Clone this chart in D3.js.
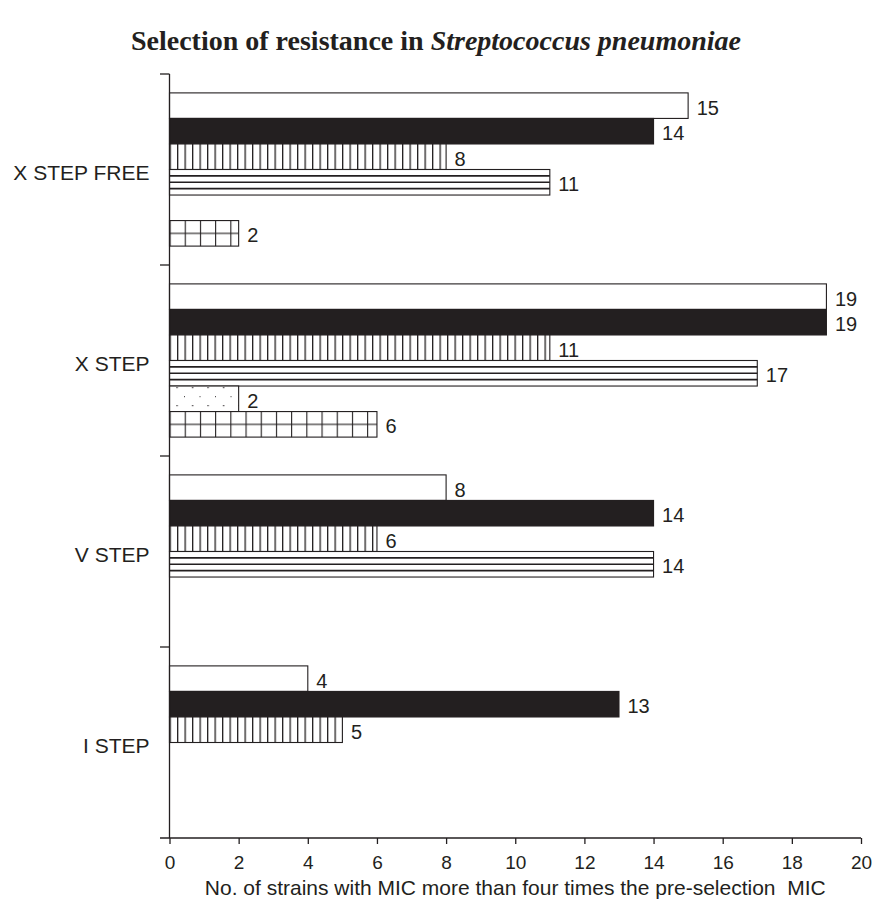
<!DOCTYPE html>
<html>
<head>
<meta charset="utf-8">
<script src="https://cdn.jsdelivr.net/npm/d3@7"></script>
<style>
  html, body { margin: 0; padding: 0; background: #fff; }
  svg { display: block; }
</style>
</head>
<body>
<svg id="chart" width="872" height="899"></svg>
<script>
// ---- data ----
const categories = ["X STEP FREE", "X STEP", "V STEP", "I STEP"];
const seriesKeys = ["open", "solid", "vertical", "horizontal", "dotted", "grid"];
const openValues       = [15, 19, 8, 4];
const solidValues      = [14, 19, 14, 13];
const verticalValues   = [8, 11, 6, 5];
const horizontalValues = [11, 17, 14, null];
const dottedValues     = [null, 2, null, null];
const gridValues       = [2, 6, null, null];
const xTicks = [0, 2, 4, 6, 8, 10, 12, 14, 16, 18, 20];
const titlePlain = "Selection of resistance in ";
const titleItalic = "Streptococcus pneumoniae";
const xTitle = "No. of strains with MIC more than four times the pre-selection\u00a0 MIC";

const seriesValues = {
  open: openValues, solid: solidValues, vertical: verticalValues,
  horizontal: horizontalValues, dotted: dottedValues, grid: gridValues
};

const ink = "#231f20";
const svg = d3.select("#chart");
const defs = svg.append("defs");

const x = d3.scaleLinear().domain([0, 20]).range([169.5, 861]);
const y0 = d3.scaleBand().domain(categories).range([74, 838]).paddingInner(0).paddingOuter(0);
const y1 = d3.scaleBand().domain(seriesKeys).range([0, y0.bandwidth()]).paddingInner(0).paddingOuter(0.74);

// flatten bars
const bars = [];
categories.forEach((c, ci) => {
  seriesKeys.forEach(k => {
    const v = seriesValues[k][ci];
    if (v != null) bars.push({cat: c, key: k, value: v, ci});
  });
});

const g = svg.append("g");

bars.forEach((d, i) => {
  const bx = x(0);
  const by = y0(d.cat) + y1(d.key);
  const bw = x(d.value) - x(0);
  const bh = y1.bandwidth();
  let fill = "#fff";
  if (d.key === "solid") fill = ink;
  if (d.key === "vertical") {
    const id = "pv" + i;
    const p = defs.append("pattern").attr("id", id).attr("patternUnits", "userSpaceOnUse")
      .attr("x", bx).attr("y", by).attr("width", 7.5).attr("height", bh);
    p.append("rect").attr("width", 7.5).attr("height", bh).attr("fill", "#fff");
    p.append("rect").attr("x", 0).attr("width", 1.3).attr("height", bh).attr("fill", ink);
    fill = `url(#${id})`;
  }
  if (d.key === "dotted") {
    const id = "pd" + i;
    const p = defs.append("pattern").attr("id", id).attr("patternUnits", "userSpaceOnUse")
      .attr("x", bx).attr("y", by).attr("width", 15.5).attr("height", 18);
    p.append("rect").attr("width", 15.5).attr("height", 18).attr("fill", "#fff");
    p.append("rect").attr("x", 7).attr("y", 1).attr("width", 1.2).attr("height", 1.2).attr("fill", ink);
    p.append("rect").attr("x", 14.7).attr("y", 10).attr("width", 1.2).attr("height", 1.2).attr("fill", ink);
    fill = `url(#${id})`;
  }
  if (d.key === "grid") {
    const id = "pg" + i;
    const p = defs.append("pattern").attr("id", id).attr("patternUnits", "userSpaceOnUse")
      .attr("x", bx).attr("y", by).attr("width", 15.2).attr("height", bh);
    p.append("rect").attr("width", 15.2).attr("height", bh).attr("fill", "#fff");
    p.append("rect").attr("x", 0).attr("width", 1.1).attr("height", bh).attr("fill", ink);
    p.append("rect").attr("y", bh / 2 - 0.5).attr("width", 15.2).attr("height", 1.1).attr("fill", ink);
    fill = `url(#${id})`;
  }
  g.append("rect")
    .attr("x", bx).attr("y", by).attr("width", bw).attr("height", bh)
    .attr("fill", fill)
    .attr("stroke", ink).attr("stroke-width", 1.1);
  if (d.key === "horizontal") {
    [0.25, 0.5, 0.75].forEach(f => {
      g.append("line")
        .attr("x1", bx).attr("x2", bx + bw)
        .attr("y1", by + bh * f).attr("y2", by + bh * f)
        .attr("stroke", ink).attr("stroke-width", 1.6);
    });
  }
  g.append("text")
    .attr("x", x(d.value) + 8.5)
    .attr("y", by + bh / 2 + 9)
    .attr("font-family", "Liberation Sans, Arial, sans-serif")
    .attr("font-size", 20)
    .attr("fill", ink)
    .text(d.value);
});

// y axis
const yAxisG = svg.append("g");
yAxisG.append("line")
  .attr("x1", x(0)).attr("x2", x(0))
  .attr("y1", y0.range()[0]).attr("y2", y0.range()[1])
  .attr("stroke", ink).attr("stroke-width", 1.3);
const boundaries = categories.map(c => y0(c));
yAxisG.selectAll("line.tick").data(boundaries).enter().append("line")
  .attr("class", "tick")
  .attr("x1", x(0) - 9.5).attr("x2", x(0))
  .attr("y1", d => d).attr("y2", d => d)
  .attr("stroke", ink).attr("stroke-width", 1.3);
yAxisG.selectAll("text").data(categories).enter().append("text")
  .attr("x", 149.5)
  .attr("y", d => y0(d) + y0.bandwidth() / 2 + 10.5)
  .attr("text-anchor", "end")
  .attr("font-family", "Liberation Sans, Arial, sans-serif")
  .attr("font-size", 21)
  .attr("fill", ink)
  .text(d => d);

// x axis
const xAxis = d3.axisBottom(x).tickValues(xTicks).tickSize(6).tickSizeOuter(0).tickPadding(11.3);
const xAxisG = svg.append("g").attr("transform", `translate(0,${y0.range()[1]})`).call(xAxis);
xAxisG.select(".domain").remove();
xAxisG.append("line")
  .attr("x1", x(0) - 9.5).attr("x2", x(20))
  .attr("stroke", ink).attr("stroke-width", 1.3);
xAxisG.selectAll(".tick line").attr("stroke", ink).attr("stroke-width", 1.3);
xAxisG.selectAll(".tick text")
  .attr("font-family", "Liberation Sans, Arial, sans-serif")
  .attr("font-size", 19)
  .attr("fill", ink);

svg.append("text")
  .attr("x", (x(0) + x(20)) / 2)
  .attr("y", 894.5)
  .attr("text-anchor", "middle")
  .attr("font-family", "Liberation Sans, Arial, sans-serif")
  .attr("font-size", 21)
  .attr("fill", ink)
  .style("white-space", "pre")
  .text(xTitle);

// title
const t = svg.append("text")
  .attr("x", 436)
  .attr("y", 50)
  .attr("text-anchor", "middle")
  .attr("font-family", "Liberation Serif, Times New Roman, serif")
  .attr("font-weight", "bold")
  .attr("font-size", 28)
  .attr("fill", ink);
t.append("tspan").text(titlePlain);
t.append("tspan").attr("font-style", "italic").text(titleItalic);
</script>
</body>
</html>
